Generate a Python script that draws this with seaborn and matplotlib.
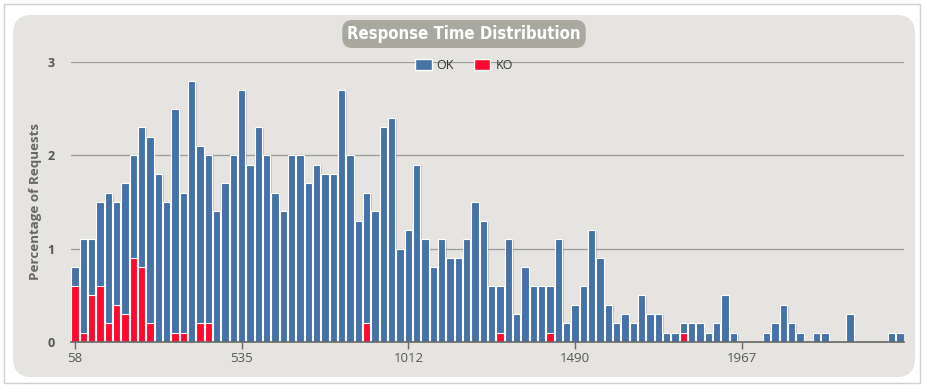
import numpy as np
import pandas as pd
import matplotlib
matplotlib.use("Agg")
import matplotlib.pyplot as plt
import seaborn as sns
from matplotlib.patches import FancyBboxPatch, Patch
from matplotlib import patheffects as pe

# percentage of requests per response-time bucket (100 buckets)
ok_pct = [0.2, 1.0, 0.6, 0.9, 1.4, 1.1, 1.4, 1.1, 1.5, 2.0,
          1.8, 1.5, 2.4, 1.5, 2.8, 1.9, 1.8, 1.4, 1.7, 2.0,
          2.7, 1.9, 2.3, 2.0, 1.6, 1.4, 2.0, 2.0, 1.7, 1.9,
          1.8, 1.8, 2.7, 2.0, 1.3, 1.4, 1.4, 2.3, 2.4, 1.0,
          1.2, 1.9, 1.1, 0.8, 1.1, 0.9, 0.9, 1.1, 1.5, 1.3,
          0.6, 0.5, 1.1, 0.3, 0.8, 0.6, 0.6, 0.5, 1.1, 0.2,
          0.4, 0.6, 1.2, 0.9, 0.4, 0.2, 0.3, 0.2, 0.5, 0.3,
          0.3, 0.1, 0.1, 0.1, 0.2, 0.2, 0.1, 0.2, 0.5, 0.1,
          0.0, 0.0, 0.0, 0.1, 0.2, 0.4, 0.2, 0.1, 0.0, 0.1,
          0.1, 0.0, 0.0, 0.3, 0.0, 0.0, 0.0, 0.0, 0.1, 0.1]
ko_pct = [0.6, 0.1, 0.5, 0.6, 0.2, 0.4, 0.3, 0.9, 0.8, 0.2,
          0.0, 0.0, 0.1, 0.1, 0.0, 0.2, 0.2, 0.0, 0.0, 0.0,
          0.0, 0.0, 0.0, 0.0, 0.0, 0.0, 0.0, 0.0, 0.0, 0.0,
          0.0, 0.0, 0.0, 0.0, 0.0, 0.2, 0.0, 0.0, 0.0, 0.0,
          0.0, 0.0, 0.0, 0.0, 0.0, 0.0, 0.0, 0.0, 0.0, 0.0,
          0.0, 0.1, 0.0, 0.0, 0.0, 0.0, 0.0, 0.1, 0.0, 0.0,
          0.0, 0.0, 0.0, 0.0, 0.0, 0.0, 0.0, 0.0, 0.0, 0.0,
          0.0, 0.0, 0.0, 0.1, 0.0, 0.0, 0.0, 0.0, 0.0, 0.0,
          0.0, 0.0, 0.0, 0.0, 0.0, 0.0, 0.0, 0.0, 0.0, 0.0,
          0.0, 0.0, 0.0, 0.0, 0.0, 0.0, 0.0, 0.0, 0.0, 0.0]
tick_buckets = [0, 20, 40, 60, 80]
tick_labels = ["58", "535", "1012", "1490", "1967"]
y_ticks = [0, 1, 2, 3]

OK_COLOR = "#4572A7"
KO_COLOR = "#FF0A2F"
PANEL = "#E5E4E0"

df = pd.DataFrame({"bucket": range(len(ok_pct)), "ok": ok_pct, "ko": ko_pct})
df["total"] = df["ok"] + df["ko"]

sns.set_theme(style="white")
plt.rcParams["font.family"] = ["Open Sans", "DejaVu Sans"]

fig = plt.figure(figsize=(9.27, 3.92), dpi=100)
fig.patch.set_facecolor("white")

# outer frame and inner rounded panel
fig.patches.append(FancyBboxPatch((4 / 927, 9 / 392), 916 / 927, 379 / 392,
                                  boxstyle="square,pad=0", transform=fig.transFigure,
                                  facecolor="white", edgecolor="#D0D0D0", lw=1, zorder=-2))
fig.patches.append(FancyBboxPatch((13 / 927, 15 / 392), 902 / 927, 362 / 392,
                                  boxstyle="round,pad=0,rounding_size=0.02",
                                  transform=fig.transFigure, mutation_aspect=927 / 392,
                                  facecolor=PANEL, edgecolor="none", zorder=-1))

ax = fig.add_axes([71 / 927, 1 - 342 / 392, 833 / 927, 280 / 392])
ax.set_zorder(2)
ax.set_facecolor("none")

shadow = [pe.SimplePatchShadow(offset=(1.2, -0.6), shadow_rgbFace="#888888", alpha=0.35), pe.Normal()]
sns.barplot(data=df, x="bucket", y="total", color=OK_COLOR, saturation=1, width=0.88,
            edgecolor="white", linewidth=0.8, ax=ax, zorder=3)
for p in ax.patches:
    p.set_path_effects(shadow)
sns.barplot(data=df, x="bucket", y="ko", color=KO_COLOR, saturation=1, width=0.88,
            edgecolor="white", linewidth=0.8, ax=ax, zorder=4)
for p in ax.patches:
    if p.get_height() == 0:
        p.set_visible(False)

ax.set_xlim(-0.5, len(ok_pct) - 0.5)
ax.set_ylim(0, 3)
ax.set_yticks(y_ticks)
ax.set_yticklabels([str(v) for v in y_ticks])
ax.set_xticks(tick_buckets)
ax.set_xticklabels(tick_labels)
ax.yaxis.grid(True, color="#9A9A9A", lw=0.9, zorder=1)
ax.set_axisbelow(True)
for s in ["top", "right", "left"]:
    ax.spines[s].set_visible(False)
ax.spines["bottom"].set_color("#666666")
ax.spines["bottom"].set_linewidth(1.2)
ax.spines["bottom"].set_zorder(5)
ax.tick_params(axis="x", bottom=True, length=5, width=1, color="#666666", pad=2.5,
               labelsize=9.5, labelcolor="#555555")
ax.tick_params(axis="y", left=False, pad=6, labelsize=9, labelcolor="#555555")
for t in ax.get_yticklabels():
    t.set_fontweight("bold")
ax.set_xlabel("")
ax.set_ylabel("Percentage of Requests", fontsize=9.6, fontweight="bold", color="#666666")
ax.yaxis.set_label_coords(-0.035, 0.5)

handles = [Patch(facecolor=OK_COLOR, label="OK"), Patch(facecolor=KO_COLOR, label="KO")]
leg = ax.legend(handles=handles, loc="center", bbox_to_anchor=(0.472, 0.988), ncol=2,
                frameon=False, fontsize=9, handlelength=1.3, handleheight=0.9,
                handletextpad=0.4, columnspacing=1.6)
for t in leg.get_texts():
    t.set_color("#333333")

fig.text(464 / 927, 1 - 34 / 392, "Response Time Distribution", ha="center", va="center",
         color="white", fontsize=12, fontweight="bold", fontstretch="condensed",
         family=["DejaVu Sans"],
         bbox=dict(boxstyle="round,pad=0.3,rounding_size=0.6", facecolor="#A9A89F", edgecolor="none"))

fig.savefig("out.png", dpi=100, facecolor="white")
